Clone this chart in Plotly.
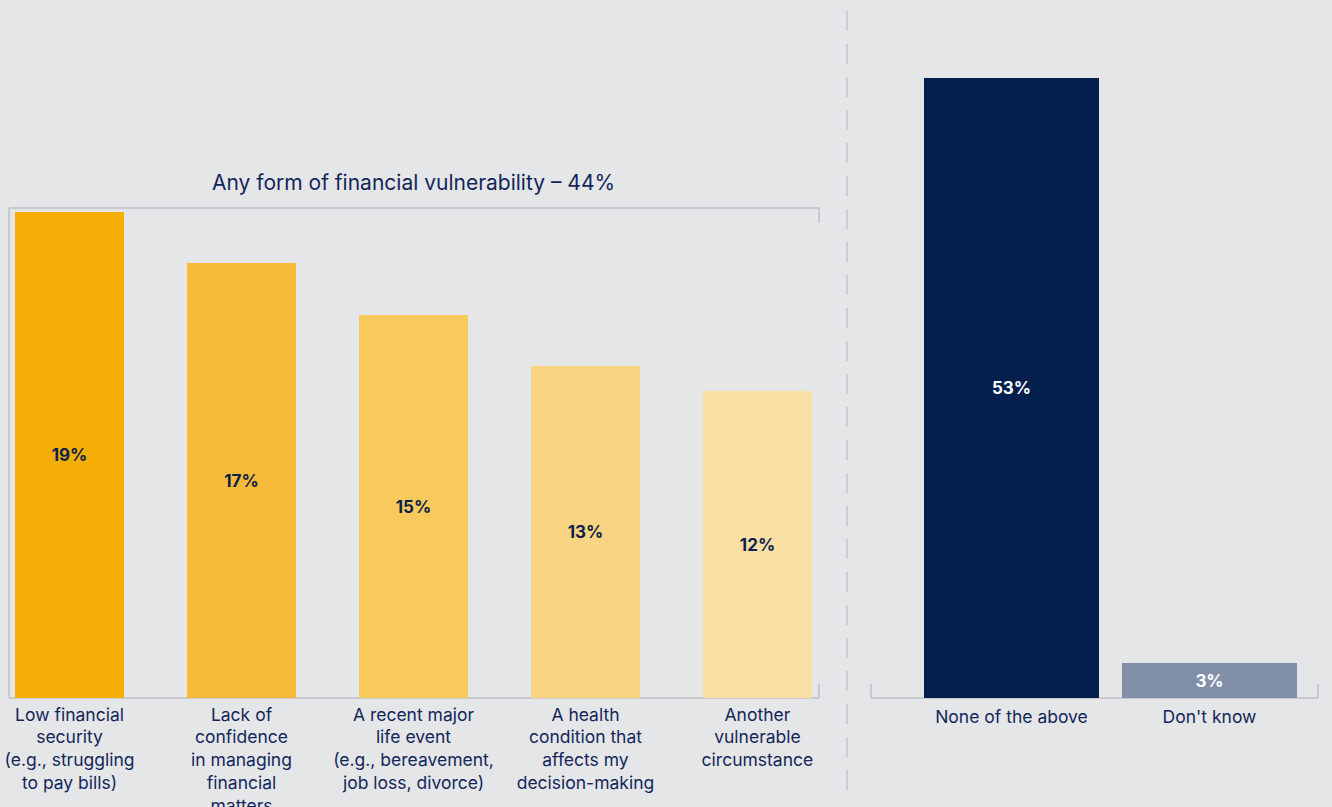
import plotly.graph_objects as go

# Data
left_categories = [
    "Low financial<br>security<br>(e.g., struggling<br>to pay bills)",
    "Lack of<br>confidence<br>in managing<br>financial<br>matters",
    "A recent major<br>life event<br>(e.g., bereavement,<br>job loss, divorce)",
    "A health<br>condition that<br>affects my<br>decision-making",
    "Another<br>vulnerable<br>circumstance",
]
left_values = [19, 17, 15, 13, 12]
left_labels = ["19%", "17%", "15%", "13%", "12%"]
left_colors = ["#f5ae05", "#f6bb38", "#f8ca5e", "#f9d583", "#fbe0a5"]

right_categories = ["None of the above", "Don't know"]
right_values = [53, 3]
right_labels = ["53%", "3%"]
right_colors = ["#031f4e", "#8190a8"]

group_title = "Any form of financial vulnerability – 44%"

W, H = 1332, 807
BG = "#e5e6e8"
NAVY = "#13265a"
LINE = "#c8c9cc"
FONT = "Inter, 'Open Sans', sans-serif"

def px_x(x):
    return x / W

def px_y(y):
    return (H - y) / H

base_y = px_y(698)

fig = go.Figure()
fig.add_trace(go.Bar(
    x=left_categories, y=left_values, text=left_labels,
    marker=dict(color=left_colors, line=dict(width=0)),
    textposition="inside", insidetextanchor="middle",
    textfont=dict(color="#0d1f4a", size=17, family=FONT, weight="bold"),
    width=0.634, xaxis="x", yaxis="y", hoverinfo="skip", cliponaxis=False,
))
fig.add_trace(go.Bar(
    x=right_categories, y=right_values, text=right_labels,
    marker=dict(color=right_colors, line=dict(width=0)),
    textposition="inside", insidetextanchor="middle",
    textfont=dict(color="#ffffff", size=17, family=FONT, weight="bold"),
    width=0.884, xaxis="x2", yaxis="y2", hoverinfo="skip", cliponaxis=False,
))

tickfont = dict(size=17.5, color=NAVY, family=FONT)
fig.update_layout(
    width=W, height=H,
    paper_bgcolor=BG, plot_bgcolor=BG,
    margin=dict(l=0, r=0, t=0, b=0, autoexpand=False),
    showlegend=False,
    bargap=0,
    uniformtext=dict(mode="show", minsize=10),
    xaxis=dict(domain=[px_x(9), px_x(819)], range=[-0.352, 4.358], type="category",
               showline=False, showgrid=False, zeroline=False, ticks="",
               tickfont=tickfont, ticklabelstandoff=4, anchor="y",
               automargin=False),
    yaxis=dict(domain=[base_y, 1], range=[0, 698 / 25.56], visible=False,
               showgrid=False, zeroline=False, anchor="x", automargin=False),
    xaxis2=dict(domain=[px_x(871), px_x(1318)], range=[-0.7096, 1.548], type="category",
                showline=False, showgrid=False, zeroline=False, ticks="",
                tickfont=tickfont, ticklabelstandoff=6, anchor="y2",
                automargin=False),
    yaxis2=dict(domain=[base_y, 1], range=[0, 698 / 11.70], visible=False,
                showgrid=False, zeroline=False, anchor="x2", automargin=False),
)

shapes = []
def seg(x0, y0, x1, y1, color=LINE, width=2, dash=None):
    shapes.append(dict(type="line", xref="paper", yref="paper",
                       x0=px_x(x0), y0=px_y(y0), x1=px_x(x1), y1=px_y(y1),
                       line=dict(color=color, width=width, dash=dash), layer="below"))

# Left bracket
seg(9, 208, 819, 208)
seg(9, 208, 9, 698)
seg(819, 208, 819, 223)
seg(9, 698, 819, 698)
seg(819, 684, 819, 698)
# Right axis
seg(871, 698, 1318, 698)
seg(871, 684, 871, 698)
seg(1318, 684, 1318, 698)
# Separator
seg(847, 11, 847, 798, color="#c4c5c8", width=1.5, dash="20px,13px")

fig.update_layout(shapes=shapes)

fig.add_annotation(
    text=group_title, xref="paper", yref="paper",
    x=px_x(413), y=px_y(182), xanchor="center", yanchor="middle",
    showarrow=False, font=dict(size=21, color=NAVY, family=FONT),
)

fig.write_html("out.html")
